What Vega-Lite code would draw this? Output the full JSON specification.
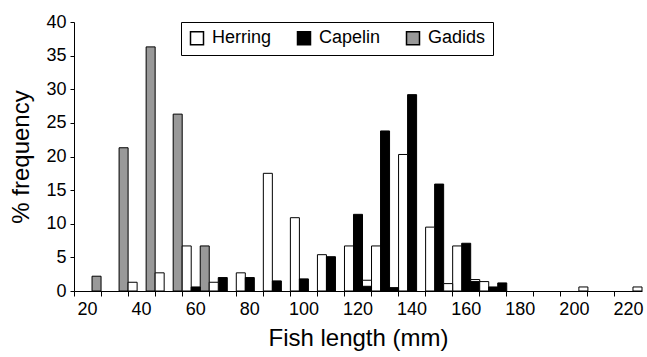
{
  "$schema": "https://vega.github.io/schema/vega-lite/v6.json",
  "width": 568,
  "height": 269,
  "autosize": {"type": "none"},
  "padding": {"left": 74, "top": 22, "right": 5, "bottom": 66},
  "background": "white",
  "config": {
    "view": {"stroke": null},
    "font": "Liberation Sans",
    "axis": {"domainColor": "black", "tickColor": "black", "labelColor": "black", "titleColor": "black", "grid": false, "titleFontWeight": "normal", "labelFont": "Liberation Sans", "titleFont": "Liberation Sans"},
    "legend": {"labelFont": "Liberation Sans", "labelColor": "black"}
  },
  "data": {
    "values": [
      {"length": 20, "series": "Gadids", "species": "Gadids", "pct": 2.2},
      {"length": 30, "series": "Gadids", "species": "Gadids", "pct": 21.3},
      {"length": 40, "series": "Herring", "species": "Herring", "pct": 1.3},
      {"length": 40, "series": "Gadids", "species": "Gadids", "pct": 36.3},
      {"length": 50, "series": "Herring", "species": "Herring", "pct": 2.7},
      {"length": 50, "series": "Gadids", "species": "Gadids", "pct": 26.3},
      {"length": 60, "series": "Herring", "species": "Herring", "pct": 6.7},
      {"length": 60, "series": "Capelin", "species": "Capelin", "pct": 0.6},
      {"length": 60, "series": "Gadids", "species": "Gadids", "pct": 6.7},
      {"length": 70, "series": "Herring", "species": "Herring", "pct": 1.3},
      {"length": 70, "series": "Capelin", "species": "Capelin", "pct": 2.0},
      {"length": 80, "series": "Herring", "species": "Herring", "pct": 2.7},
      {"length": 80, "series": "Capelin", "species": "Capelin", "pct": 2.0},
      {"length": 90, "series": "Herring", "species": "Herring", "pct": 17.5},
      {"length": 90, "series": "Capelin", "species": "Capelin", "pct": 1.5},
      {"length": 100, "series": "Herring", "species": "Herring", "pct": 10.9},
      {"length": 100, "series": "Capelin", "species": "Capelin", "pct": 1.8},
      {"length": 110, "series": "Herring", "species": "Herring", "pct": 5.4},
      {"length": 110, "series": "Capelin", "species": "Capelin", "pct": 5.1},
      {"length": 120, "series": "Herring", "species": "Herring", "pct": 6.7},
      {"length": 120, "series": "Capelin", "species": "Capelin", "pct": 11.4},
      {"length": 120, "series": "Gadids", "species": "Herring", "pct": 1.6},
      {"length": 120, "series": "Gadids", "species": "Capelin", "pct": 0.7},
      {"length": 130, "series": "Herring", "species": "Herring", "pct": 6.7},
      {"length": 130, "series": "Capelin", "species": "Capelin", "pct": 23.8},
      {"length": 130, "series": "Gadids", "species": "Capelin", "pct": 0.5},
      {"length": 140, "series": "Herring", "species": "Herring", "pct": 20.3},
      {"length": 140, "series": "Capelin", "species": "Capelin", "pct": 29.2},
      {"length": 150, "series": "Herring", "species": "Herring", "pct": 9.5},
      {"length": 150, "series": "Capelin", "species": "Capelin", "pct": 15.9},
      {"length": 150, "series": "Gadids", "species": "Herring", "pct": 1.1},
      {"length": 160, "series": "Herring", "species": "Herring", "pct": 6.7},
      {"length": 160, "series": "Capelin", "species": "Capelin", "pct": 7.1},
      {"length": 160, "series": "Gadids", "species": "Herring", "pct": 1.7},
      {"length": 160, "series": "Gadids", "species": "Capelin", "pct": 1.4},
      {"length": 170, "series": "Herring", "species": "Herring", "pct": 1.4},
      {"length": 170, "series": "Capelin", "species": "Capelin", "pct": 0.6},
      {"length": 170, "series": "Gadids", "species": "Capelin", "pct": 1.2},
      {"length": 200, "series": "Gadids", "species": "Herring", "pct": 0.6},
      {"length": 220, "series": "Gadids", "species": "Herring", "pct": 0.6}
    ]
  },
  "mark": {"type": "bar", "stroke": "black", "strokeWidth": 1},
  "encoding": {
    "x": {
      "field": "length",
      "type": "ordinal",
      "scale": {"domain": [20, 30, 40, 50, 60, 70, 80, 90, 100, 110, 120, 130, 140, 150, 160, 170, 180, 190, 200, 210, 220], "paddingInner": 0, "paddingOuter": 0},
      "axis": {
        "title": "Fish length (mm)",
        "titleFontSize": 24,
        "titlePadding": 8,
        "labelFontSize": 18,
        "labelAngle": 0,
        "labelOverlap": false,
        "bandPosition": 0,
        "labelExpr": "datum.value % 20 == 0 ? datum.label : ''",
        "tickSize": 5,
        "labelPadding": 4
      }
    },
    "xOffset": {
      "field": "series",
      "type": "nominal",
      "scale": {"domain": ["Herring", "Capelin", "Gadids"], "paddingInner": 0, "paddingOuter": 0}
    },
    "y": {
      "field": "pct",
      "type": "quantitative",
      "stack": null,
      "scale": {"domain": [0, 40], "nice": false},
      "axis": {
        "title": "% frequency",
        "titleFontSize": 24,
        "titlePadding": 12,
        "labelFontSize": 18,
        "values": [0, 5, 10, 15, 20, 25, 30, 35, 40],
        "tickSize": 4,
        "labelPadding": 4
      }
    },
    "color": {
      "field": "species",
      "type": "nominal",
      "scale": {"domain": ["Herring", "Capelin", "Gadids"], "range": ["#ffffff", "#000000", "#999999"]},
      "legend": {
        "title": null,
        "orient": "none",
        "legendX": 107,
        "legendY": 0,
        "direction": "horizontal",
        "symbolType": "square",
        "symbolSize": 169,
        "symbolStrokeColor": "black",
        "symbolStrokeWidth": 1.5,
        "labelFontSize": 18,
        "labelOffset": 6,
        "columnPadding": 22,
        "strokeColor": "black",
        "padding": 7,
        "fillColor": "white"
      }
    },
    "order": {"field": "pct", "sort": "descending"}
  }
}
